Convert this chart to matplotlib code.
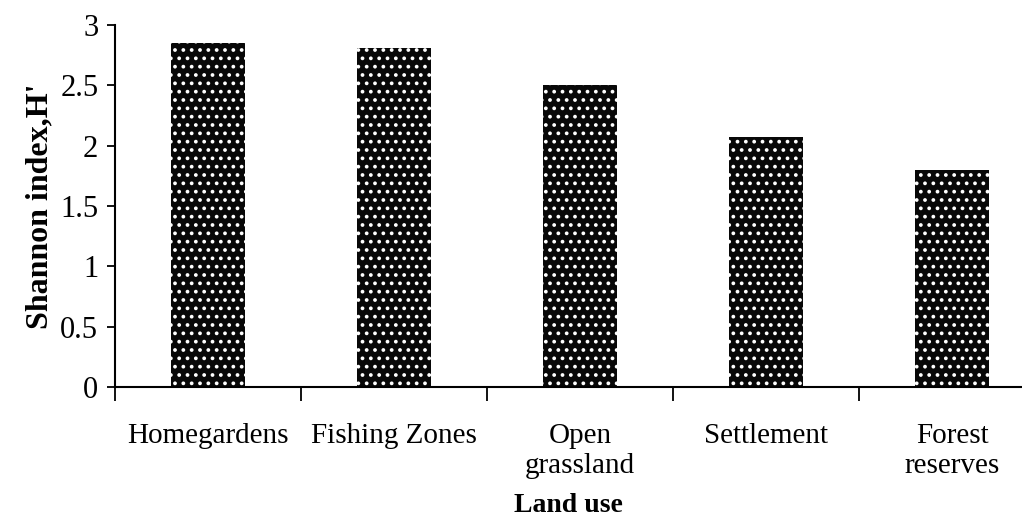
import matplotlib
matplotlib.use("Agg")
import matplotlib.pyplot as plt
import numpy as np

categories = ["Homegardens", "Fishing Zones", "Open\ngrassland", "Settlement", "Forest\nreserves"]
values = [2.85, 2.81, 2.50, 2.07, 1.80]
yticks = [0, 0.5, 1, 1.5, 2, 2.5, 3]
ytick_labels = ["0", "0.5", "1", "1.5", "2", "2.5", "3"]

plt.rcParams['font.family'] = ['Liberation Serif', 'DejaVu Serif']
plt.rcParams['hatch.linewidth'] = 1.5
plt.rcParams['hatch.color'] = 'white'

fig = plt.figure(figsize=(10.22, 5.25), dpi=100)
ax = fig.add_axes([115/1022, 138/525, 1 - 115/1022, (387-25)/525])

x = np.arange(len(categories))
ax.bar(x, values, width=0.40, color='#080808', edgecolor='white', hatch='..', linewidth=0)

ax.set_xlim(-0.5, -0.5 + 907/186)
ax.set_ylim(0, 3)
ax.set_yticks(yticks)
ax.set_yticklabels(ytick_labels, fontsize=22)
ax.set_xticks(np.arange(-0.5, len(categories) - 0.5, 1.0))
ax.set_xticklabels([])
ax.set_xticks(x, minor=True)
ax.set_xticklabels(categories, minor=True, fontsize=21, linespacing=1.2)
ax.tick_params(axis='x', which='minor', length=0, pad=26)
ax.tick_params(axis='x', which='major', length=10, width=1.3, direction='out')
ax.tick_params(axis='y', length=6, width=1.3, direction='out', pad=6)

for s in ['top', 'right']:
    ax.spines[s].set_visible(False)
for s in ['left', 'bottom']:
    ax.spines[s].set_linewidth(1.5)

ax.set_xlabel("Land use", fontsize=20, fontweight='bold', labelpad=10)
ax.set_ylabel("Shannon index,H'", fontsize=23, fontweight='bold', labelpad=4)

fig.savefig("out.png", dpi=100)
